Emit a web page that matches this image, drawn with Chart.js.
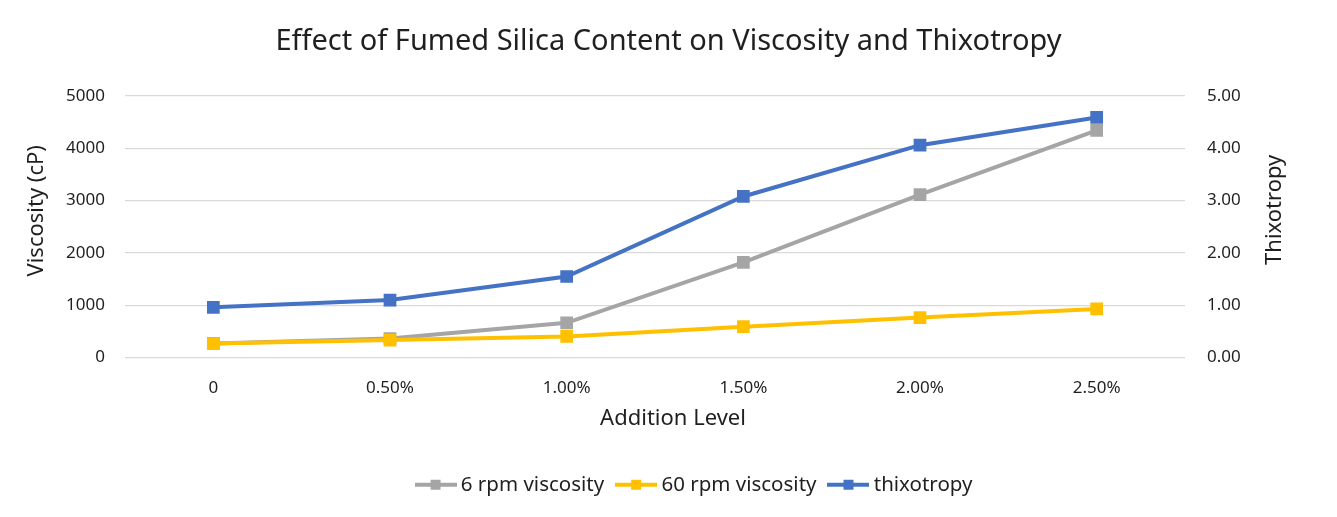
<!DOCTYPE html>
<html><head><meta charset="utf-8">
<script src="https://cdn.jsdelivr.net/npm/chart.js@4.4.1/dist/chart.umd.min.js"></script>
<style>html,body{margin:0;padding:0;background:#fff;overflow:hidden}</style>
</head><body>
<canvas id="c" width="1337" height="517"></canvas>
<script>
const categories = ['0', '0.50%', '1.00%', '1.50%', '2.00%', '2.50%'];
const rpm6Viscosity = [270, 365, 665, 1820, 3115, 4345];
const rpm60Viscosity = [268, 335, 405, 590, 765, 930];
const thixotropy = [0.96, 1.10, 1.55, 3.08, 4.06, 4.59];
const seriesNames = ['6 rpm viscosity', '60 rpm viscosity', 'thixotropy'];
const seriesColors = ['#A5A5A5', '#FFC000', '#4472C4'];

const FONT = "'Noto Sans', 'Open Sans', sans-serif";
const TEXT = '#1f1f1f';

function legendSample(color) {
  const cv = document.createElement('canvas');
  cv.width = 42; cv.height = 12;
  const g = cv.getContext('2d');
  g.fillStyle = color;
  g.fillRect(0, 4, 42, 4);
  g.fillRect(16, 1, 10, 10);
  return cv;
}
const samples = seriesColors.map(legendSample);

const tweak = {
  id: 'tweak',
  afterLayout(chart) {
    const l = chart.legend;
    if (l) { l.left += 28; l.right += 28; }
    const shift = (s, dx, dy) => {
      if (!s || s._patched) return;
      const orig = s.drawTitle;
      s.drawTitle = function () {
        this.ctx.save(); this.ctx.translate(dx, dy); orig.call(this); this.ctx.restore();
      };
      s._patched = true;
    };
    shift(chart.scales.x, 18, 0);
    shift(chart.scales.y, 0, -16);
    const r = chart.scales.y1;
    if (r && !r._patched) {
      r.drawTitle = function () {
        const t = this.options.title;
        const ctx = this.ctx;
        ctx.save();
        ctx.font = `${t.font.size}px ${t.font.family}`;
        ctx.fillStyle = t.color;
        ctx.textAlign = 'center';
        ctx.textBaseline = 'middle';
        ctx.translate(this.right - 62, (this.top + this.bottom) / 2 - 17);
        ctx.rotate(-Math.PI / 2);
        ctx.fillText(t.text, 0, 0);
        ctx.restore();
      };
      r._patched = true;
    }
  }
};

new Chart(document.getElementById('c'), {
  type: 'line',
  data: {
    labels: categories,
    datasets: [
      { label: seriesNames[0], data: rpm6Viscosity, yAxisID: 'y', order: 2 },
      { label: seriesNames[1], data: rpm60Viscosity, yAxisID: 'y', order: 1 },
      { label: seriesNames[2], data: thixotropy, yAxisID: 'y1', order: 0 }
    ].map((d, i) => Object.assign(d, {
      borderColor: seriesColors[i], backgroundColor: seriesColors[i],
      borderWidth: 4, pointStyle: 'rect', pointRadius: 9, pointHoverRadius: 9,
      pointBorderWidth: 0, tension: 0, fill: false
    }))
  },
  options: {
    responsive: false, animation: false, devicePixelRatio: 1,
    layout: { padding: { left: 0, right: 0, top: 0, bottom: 12 } },
    plugins: {
      tooltip: { enabled: false },
      title: {
        display: true, text: 'Effect of Fumed Silica Content on Viscosity and Thixotropy',
        color: TEXT, font: { family: FONT, size: 29, weight: 'normal' },
        padding: { top: 24.6, bottom: 36.6 }
      },
      legend: {
        position: 'bottom',
        labels: {
          usePointStyle: true, pointStyleWidth: 30, padding: 17,
          color: TEXT, font: { family: FONT, size: 20.5 },
          sort: (a, b) => a.datasetIndex - b.datasetIndex,
          generateLabels(chart) {
            const items = Chart.defaults.plugins.legend.labels.generateLabels(chart);
            items.forEach(it => { it.pointStyle = samples[it.datasetIndex]; });
            return items;
          }
        }
      }
    },
    scales: {
      x: {
        offset: true,
        grid: { display: false, drawTicks: false },
        border: { display: false },
        ticks: { color: TEXT, font: { family: FONT, size: 17 }, padding: 20, maxRotation: 0 },
        title: { display: true, text: 'Addition Level', color: TEXT, font: { family: FONT, size: 22 }, padding: { top: 0, bottom: 26 } },
        afterFit(s) { s.height = 99.9; }
      },
      y: {
        position: 'left', min: 0, max: 5000,
        grid: { color: '#D9D9D9', lineWidth: 1.3, drawTicks: false },
        border: { display: false },
        ticks: { stepSize: 1000, color: TEXT, font: { family: FONT, size: 17 }, padding: 20, callback: v => String(v) },
        title: { display: true, text: 'Viscosity (cP)', color: TEXT, font: { family: FONT, size: 22 }, padding: { top: 24, bottom: 0 } },
        afterFit(s) { s.width = 125; }
      },
      y1: {
        position: 'right', min: 0, max: 5,
        grid: { display: false, drawTicks: false },
        border: { display: false },
        ticks: { stepSize: 1, color: TEXT, font: { family: FONT, size: 17 }, padding: 22, callback: v => Number(v).toFixed(2) },
        title: { display: true, text: 'Thixotropy', color: TEXT, font: { family: FONT, size: 22 }, padding: { top: 50, bottom: 0 } },
        afterFit(s) { s.width = 152; }
      }
    }
  },
  plugins: [tweak]
});
</script>
</body></html>
